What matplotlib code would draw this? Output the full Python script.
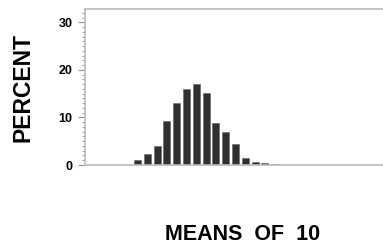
import matplotlib
matplotlib.use("Agg")
import matplotlib.pyplot as plt
import numpy as np

# histogram of sample means (n = 10), percent per bin
bins = np.arange(15)
percent = [1.0, 2.3, 4.0, 9.3, 13.0, 16.0, 17.0, 15.1, 8.9, 6.9, 4.4, 1.4, 0.6, 0.4, 0.3]
yticks = [0, 10, 20, 30]

plt.rcParams['font.family'] = ['Liberation Sans', 'DejaVu Sans']

fig = plt.figure(figsize=(3.83, 2.46), dpi=100)
ax = fig.add_axes([85/383, 1 - 165/246, 1 - 85/383, (165 - 9)/246])

ax.bar(bins, percent, width=0.72, color='#303030', edgecolor='#707070', linewidth=0.5)

ax.set_xlim(-5.36, 25.05)
ax.set_ylim(0, 32.8)

ax.set_yticks(yticks)
ax.set_yticks(np.arange(0, 33, 1), minor=True)
ax.set_xticks([])
ax.tick_params(axis='y', which='major', length=5, width=0.9, color='#999999',
               labelsize=9, pad=4)
ax.tick_params(axis='y', which='minor', length=2.5, width=0.7, color='#999999')
for lbl in ax.get_yticklabels():
    lbl.set_fontweight('bold')

for side in ['left', 'top', 'bottom']:
    ax.spines[side].set_color('#bbbbbb')
    ax.spines[side].set_linewidth(1.2)
ax.spines['right'].set_visible(False)

fig.text(23/383, 1 - 87/246, 'PERCENT', rotation=90, ha='center', va='center',
         fontsize=16.5, fontweight='bold')
fig.text(243/383, 1 - 234/246, 'MEANS  OF  10', ha='center', va='center',
         fontsize=15.5, fontweight='bold')

fig.savefig("out.png", dpi=100)
